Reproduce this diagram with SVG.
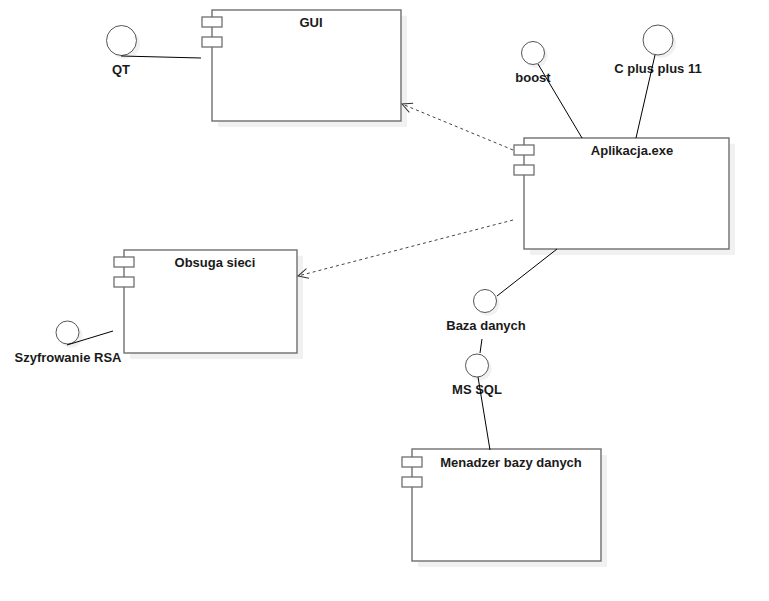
<svg xmlns="http://www.w3.org/2000/svg" width="769" height="601" viewBox="0 0 769 601">
<style>
.sh{fill:#f1f1f1;stroke:none}
.box{fill:#fff;stroke:#6f6f6f;stroke-width:1.4}
.port{fill:#fff;stroke:#6f6f6f;stroke-width:1.3}
.ci{fill:#fff;stroke:#555;stroke-width:1}
.t{font-family:"Liberation Sans",Arial,sans-serif;font-size:13px;font-weight:bold;fill:#1a1a1a;text-anchor:middle}
.ln{stroke:#000;stroke-width:1;fill:none}
.dash{stroke:#444;stroke-width:1;fill:none;stroke-dasharray:3,3}
</style>
<defs>
<marker id="open" viewBox="0 0 12 12" refX="11" refY="6" markerWidth="12" markerHeight="12" markerUnits="userSpaceOnUse" orient="auto">
<path d="M1,1 L11,6 L1,11" fill="none" stroke="#333" stroke-width="1"/>
</marker>
</defs>
<rect width="769" height="601" fill="#fff"/>
<g id="gui">
<rect class="sh" x="218" y="16" width="189" height="111"/>
<rect class="box" x="212" y="10" width="189" height="111"/>
<rect class="port" x="202" y="17" width="20" height="10"/>
<rect class="port" x="202" y="37" width="20" height="10"/>
<text class="t" x="311" y="27">GUI</text>
</g>
<g id="qt">
<circle class="sh" cx="125" cy="44" r="15"/>
<circle class="ci" cx="121.5" cy="40.5" r="15"/>
<text class="t" x="121" y="74">QT</text>
</g>
<g id="aplikacja">
<rect class="sh" x="530" y="144" width="205" height="111"/>
<rect class="box" x="524" y="138" width="205" height="111"/>
<rect class="port" x="514" y="145" width="20" height="10"/>
<rect class="port" x="514" y="165" width="20" height="10"/>
<text class="t" x="632" y="155">Aplikacja.exe</text>
</g>
<g id="boost">
<circle class="sh" cx="536" cy="56" r="11.5"/>
<circle class="ci" cx="533" cy="53" r="11.5"/>
<text class="t" x="533" y="82">boost</text>
</g>
<g id="cpp">
<circle class="sh" cx="661" cy="43" r="15"/>
<circle class="ci" cx="658" cy="40" r="15"/>
<text class="t" x="658" y="73">C plus plus 11</text>
</g>
<g id="siec">
<rect class="sh" x="130" y="256" width="173" height="103"/>
<rect class="box" x="124" y="250" width="173" height="103"/>
<rect class="port" x="114" y="257" width="20" height="10"/>
<rect class="port" x="114" y="277" width="20" height="10"/>
<text class="t" x="215" y="267">Obsuga sieci</text>
</g>
<g id="rsa">
<circle class="sh" cx="71" cy="336" r="11.5"/>
<circle class="ci" cx="67.5" cy="332.5" r="11.5"/>
<text class="t" x="68" y="362">Szyfrowanie RSA</text>
</g>
<g id="baza">
<circle class="sh" cx="488" cy="304" r="11.5"/>
<circle class="ci" cx="485" cy="301" r="11.5"/>
<text class="t" x="486" y="330">Baza danych</text>
</g>
<g id="mssql">
<circle class="sh" cx="480" cy="369" r="11.5"/>
<circle class="ci" cx="477" cy="365.5" r="11.5"/>
<text class="t" x="477" y="394">MS SQL</text>
</g>
<g id="menadzer">
<rect class="sh" x="418" y="455" width="189" height="112"/>
<rect class="box" x="412" y="449" width="189" height="112"/>
<rect class="port" x="402" y="457" width="20" height="10"/>
<rect class="port" x="402" y="477" width="20" height="10"/>
<text class="t" x="511" y="467">Menadzer bazy danych</text>
</g>
<g id="connectors">
<line class="ln" x1="121" y1="56" x2="201" y2="58"/>
<line class="ln" x1="538" y1="64" x2="582" y2="138"/>
<line class="ln" x1="655" y1="55" x2="636" y2="138"/>
<line class="ln" x1="67" y1="345" x2="113" y2="331"/>
<line class="ln" x1="497" y1="296" x2="557" y2="249"/>
<line class="ln" x1="482" y1="339" x2="480" y2="353"/>
<line class="ln" x1="478" y1="377" x2="490" y2="450"/>
<line class="dash" x1="513" y1="150" x2="402" y2="104" marker-end="url(#open)"/>
<line class="dash" x1="513" y1="220" x2="298" y2="276" marker-end="url(#open)"/>
</g>
</svg>
